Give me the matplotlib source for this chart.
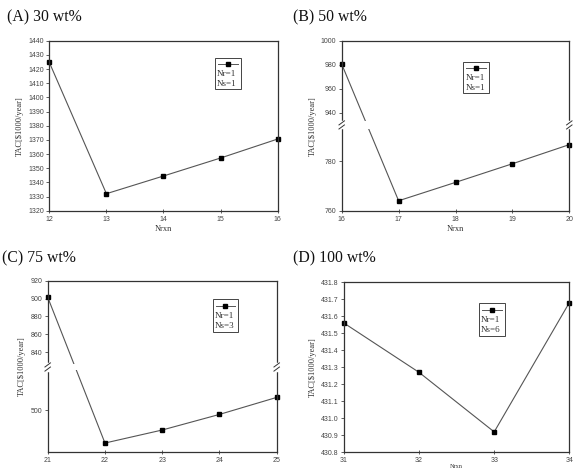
import numpy as np
import matplotlib
matplotlib.use("Agg")
import matplotlib.pyplot as plt
from matplotlib.patches import Rectangle

# ---------------- data ----------------
titles = ["(A) 30 wt%", "(B) 50 wt%", "(C) 75 wt%", "(D) 100 wt%"]

xa = [12, 13, 14, 15, 16]
ya = [1424.7, 1332.0, 1344.5, 1357.2, 1370.6]
yticks_a = [1320, 1330, 1340, 1350, 1360, 1370, 1380, 1390, 1400, 1410, 1420, 1430, 1440]

xb = [16, 17, 18, 19, 20]
yb = [980.5, 764.0, 771.4, 778.9, 786.6]
yticks_b = [760, 780, 940, 960, 980, 1000]

xc = [21, 22, 23, 24, 25]
yc = [901.5, 463.4, 478.0, 495.5, 514.6]
yticks_c = [500, 840, 860, 880, 900, 920]

xd = [31, 32, 33, 34]
yd = [431.56, 431.27, 430.92, 431.68]
yticks_d = [430.8, 430.9, 431.0, 431.1, 431.2, 431.3, 431.4, 431.5, 431.6, 431.7, 431.8]

legend_a = ["Nr=1", "Ns=1"]
legend_b = ["Nr=1", "Ns=1"]
legend_c = ["Nr=1", "Ns=3"]
legend_d = ["Nr=1", "Ns=6"]

W, H = 579, 468
fig = plt.figure(figsize=(W / 100, H / 100), dpi=100)
fig.patch.set_facecolor("white")

SERIF = "Liberation Serif"
SANS = "Liberation Sans"


def add_axes_px(l, r, t, b):
    return fig.add_axes([l / W, 1 - b / H, (r - l) / W, (b - t) / H])


def piecewise(xs, ts):
    xs = np.asarray(xs, float)
    ts = np.asarray(ts, float)

    def f(v, a=xs, b=ts):
        v = np.asarray(v, float)
        out = np.interp(v, a, b)
        lo = v < a[0]
        hi = v > a[-1]
        s0 = (b[1] - b[0]) / (a[1] - a[0])
        s1 = (b[-1] - b[-2]) / (a[-1] - a[-2])
        out = np.where(lo, b[0] + (v - a[0]) * s0, out)
        out = np.where(hi, b[-1] + (v - a[-1]) * s1, out)
        return out
    return f


def style(ax, xs, xlabel=True, xlabel_size=6, xlabel_pad=2):
    for sp in ax.spines.values():
        sp.set_linewidth(0.9)
        sp.set_color("#333333")
    ax.tick_params(axis="y", direction="out", length=2.5, width=0.6,
                   labelsize=5, colors="#444444", pad=1.5)
    ax.tick_params(axis="x", direction="inout", length=3, width=0.6,
                   labelsize=5, colors="#444444", pad=2)
    for lab in ax.get_xticklabels() + ax.get_yticklabels():
        lab.set_fontfamily(SANS)
    ax.set_xlim(xs[0], xs[-1])
    ax.set_xticks(xs)
    ax.set_ylabel("TAC[\\$1000/year]", fontsize=6, family=SERIF, labelpad=3,
                  color="#333333")
    if xlabel:
        ax.set_xlabel("Nrxn", fontsize=xlabel_size, family=SERIF,
                      labelpad=xlabel_pad, color="#333333")


def plot_series(ax, x, y):
    ax.plot(x, y, color="#555555", lw=0.8, marker="s", ms=3,
            mfc="black", mec="black", clip_on=False, zorder=2)


def legend_box(ax, x0, x1, y0, y1, labels):
    ax.add_patch(Rectangle((x0, y0), x1 - x0, y1 - y0, transform=ax.transAxes,
                           fill=False, ec="#444444", lw=0.7, zorder=4))
    h = y1 - y0
    ym = y1 - h * 0.2
    ax.plot([x0 + 0.12 * (x1 - x0), x1 - 0.12 * (x1 - x0)], [ym, ym],
            transform=ax.transAxes, color="#555555", lw=0.7, zorder=4)
    ax.plot([(x0 + x1) / 2], [ym], transform=ax.transAxes, marker="s", ms=3,
            color="black", zorder=5)
    for i, lab in enumerate(labels):
        ax.text(x0 + 0.08 * (x1 - x0), y1 - h * (0.53 + 0.31 * i), lab,
                transform=ax.transAxes, fontsize=6.5, family=SERIF,
                va="center", ha="left", color="#333333", zorder=5)


def break_marks(ax, yfrac):
    for xa_ in (0.0, 1.0):
        ax.plot([xa_, xa_], [yfrac - 0.015, yfrac + 0.015], transform=ax.transAxes,
                color="white", lw=2.5, clip_on=False, zorder=6)
        for off in (-0.012, 0.012):
            ax.plot([xa_ - 0.012, xa_ + 0.012], [yfrac + off - 0.012, yfrac + off + 0.012],
                    transform=ax.transAxes, color="#333333", lw=0.7,
                    clip_on=False, zorder=7)


# ---------------- panel A ----------------
axA = add_axes_px(49.3, 277.7, 40.7, 210.7)
plot_series(axA, xa, ya)
axA.set_ylim(1320, 1440)
axA.set_yticks(yticks_a)
style(axA, xa)
legend_box(axA, 0.725, 0.839, 0.716, 0.898, legend_a)

# ---------------- panel B (broken axis) ----------------
axB = add_axes_px(341.7, 569.3, 40.7, 210.7)
fB = piecewise([760, 793, 933, 1000], [0, 245.9, 268.8, 510])
iB = piecewise([0, 245.9, 268.8, 510], [760, 793, 933, 1000])
axB.set_yscale("function", functions=(fB, iB))
plot_series(axB, xb, yb)
axB.set_ylim(760, 1000)
axB.set_yticks(yticks_b)
axB.yaxis.set_major_formatter(matplotlib.ticker.FormatStrFormatter("%d"))
axB.yaxis.set_minor_locator(matplotlib.ticker.NullLocator())
axB.axhspan(793, 933, color="white", zorder=3, lw=0)
style(axB, xb)
break_marks(axB, 257.3 / 510)
legend_box(axB, 0.534, 0.648, 0.691, 0.876, legend_b)

# ---------------- panel C (broken axis) ----------------
axC = add_axes_px(47.7, 276.7, 280.7, 452.3)
fC = piecewise([453, 545, 827, 920], [0, 246.1, 266.2, 515])
iC = piecewise([0, 246.1, 266.2, 515], [453, 545, 827, 920])
axC.set_yscale("function", functions=(fC, iC))
plot_series(axC, xc, yc)
axC.set_ylim(453, 920)
axC.set_yticks(yticks_c)
axC.yaxis.set_major_formatter(matplotlib.ticker.FormatStrFormatter("%d"))
axC.yaxis.set_minor_locator(matplotlib.ticker.NullLocator())
axC.axhspan(545, 827, color="white", zorder=3, lw=0)
style(axC, xc, xlabel=False)
break_marks(axC, 256.0 / 515)
legend_box(axC, 0.72, 0.83, 0.703, 0.893, legend_c)

# ---------------- panel D ----------------
axD = add_axes_px(344, 569.3, 282.3, 452.3)
plot_series(axD, xd, yd)
axD.set_ylim(430.8, 431.8)
axD.set_yticks(yticks_d)
axD.yaxis.set_major_formatter(matplotlib.ticker.FormatStrFormatter("%.1f"))
style(axD, xd, xlabel=True, xlabel_size=4.5, xlabel_pad=0)
legend_box(axD, 0.598, 0.714, 0.686, 0.878, legend_d)

# ---------------- panel titles ----------------
title_pos = [(7, 17), (293, 17), (2, 258), (293, 258)]
for t, (px, py) in zip(titles, title_pos):
    fig.text(px / W, 1 - py / H, t, fontsize=11.3, family=SERIF,
             ha="left", va="center", color="#111111")

fig.savefig("out.png", dpi=100)
